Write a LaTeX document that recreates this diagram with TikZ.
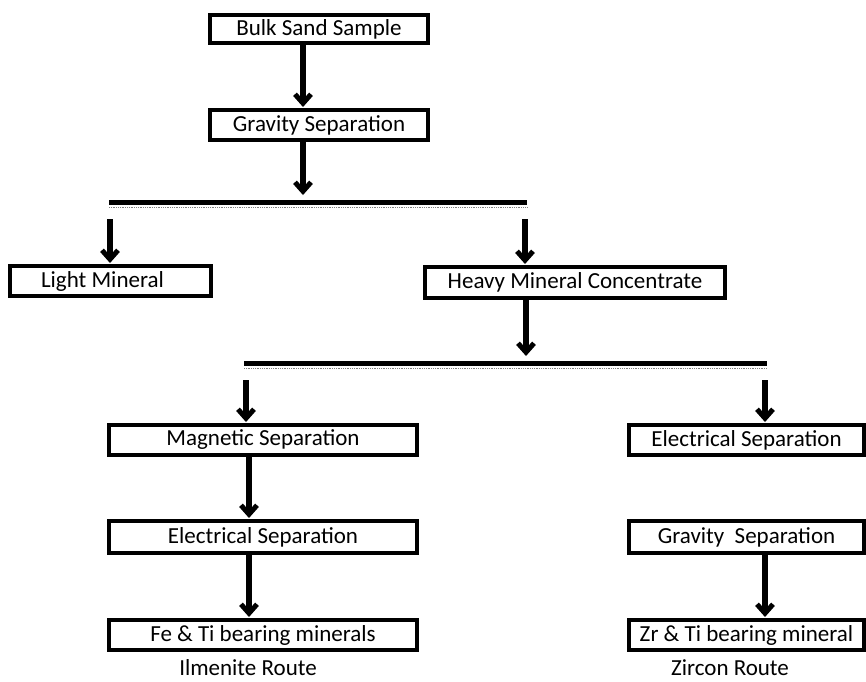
\documentclass[tikz,border=0pt]{standalone}
\usepackage{fontspec}
\setmainfont{Carlito}
\usetikzlibrary{arrows.meta}
\begin{document}
\begin{tikzpicture}[x=1pt,y=-1pt,
  boxnode/.style={draw=black,line width=4pt,inner sep=0pt,font=\fontsize{23}{24}\selectfont},
  lbl/.style={inner sep=0pt,anchor=base,font=\fontsize{23}{24}\selectfont},
  arr/.style={line width=6pt,-{Straight Barb[length=9pt,width=16pt,line width=5pt]}},
  barline/.style={line width=5pt},
  shade/.style={densely dotted,line width=0.8pt,gray}]
\useasboundingbox (0,0) rectangle (866,681);
% boxes
\node[boxnode,minimum width=218pt,minimum height=28pt] (bulk) at (319,29) {Bulk Sand Sample};
\node[boxnode,minimum width=218pt,minimum height=30pt] (grav1) at (319,125) {Gravity Separation};
\node[boxnode,minimum width=201pt,minimum height=30pt] (light) at (110.5,281) {Light Mineral\hspace*{16pt}};
\node[boxnode,minimum width=300pt,minimum height=31pt] (heavy) at (575,282.5) {Heavy Mineral Concentrate};
\node[boxnode,minimum width=308pt,minimum height=30pt] (mag) at (263,440) {Magnetic Separation};
\node[boxnode,minimum width=235pt,minimum height=30pt] (elecR) at (746.5,440) {Electrical Separation};
\node[boxnode,minimum width=308pt,minimum height=32pt] (elecL) at (263,537) {Electrical Separation};
\node[boxnode,minimum width=235pt,minimum height=32pt] (gravR) at (746.5,537) {Gravity\ \ Separation};
\node[boxnode,minimum width=308pt,minimum height=30pt] (fe) at (263,635) {Fe \& Ti bearing minerals};
\node[boxnode,minimum width=235pt,minimum height=30pt] (zr) at (746.5,635) {Zr \& Ti bearing mineral};
\node[lbl] (ilm) at (248,675) {Ilmenite Route};
\node[lbl] (zir) at (730,675) {Zircon Route};
% bars
\coordinate (b1L) at (109,202.5);
\coordinate (b1R) at (527,202.5);
\coordinate (b2L) at (244,363);
\coordinate (b2R) at (767,363);
\draw[barline] (b1L) -- (b1R);
\draw[barline] (b2L) -- (b2R);
\draw[shade] ([yshift=-5pt]b1L) -- ([yshift=-5pt]b1R);
\draw[shade] ([yshift=-5pt]b2L) -- ([yshift=-5pt]b2R);
% arrows
\coordinate (c1) at (303,0);
\draw[arr] (bulk.south -| c1) -- ([yshift=1pt]grav1.north -| c1);
\coordinate (t1) at (303,195);
\draw[arr] (grav1.south -| c1) -- (t1);
\coordinate (s1) at (110,219);
\coordinate (s2) at (525,219);
\draw[arr] (s1) -- ([yshift=1pt]light.north -| s1);
\draw[arr] (s2) -- ([yshift=1pt]heavy.north -| s2);
\coordinate (t2) at (526,356);
\draw[arr] (heavy.south -| t2) -- (t2);
\coordinate (s3) at (246,380);
\coordinate (s4) at (765,380);
\draw[arr] (s3) -- ([yshift=1pt]mag.north -| s3);
\draw[arr] (s4) -- ([yshift=1pt]elecR.north -| s4);
\coordinate (cL) at (249,0);
\draw[arr] (mag.south -| cL) -- ([yshift=1pt]elecL.north -| cL);
\draw[arr] (elecL.south -| cL) -- ([yshift=1pt]fe.north -| cL);
\draw[arr] (gravR.south -| s4) -- ([yshift=1pt]zr.north -| s4);
\end{tikzpicture}
\end{document}
